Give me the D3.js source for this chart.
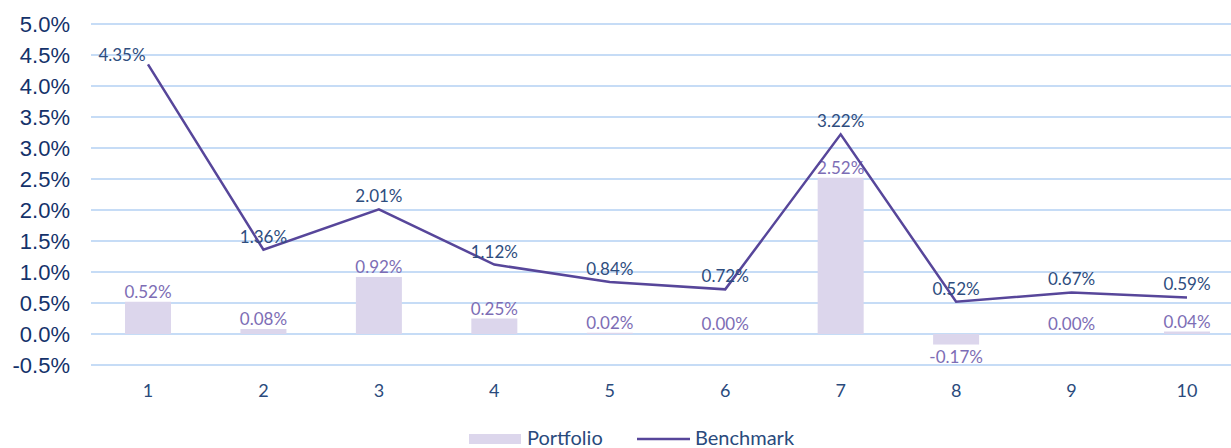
<!DOCTYPE html>
<html><head><meta charset="utf-8">
<script src="https://cdn.jsdelivr.net/npm/d3@7"></script>
<style>
html,body{margin:0;padding:0;background:#fff;overflow:hidden;}
svg{display:block;}
</style></head>
<body>
<svg id="chart" width="1231" height="448"></svg>
<script>
const categories = ["1","2","3","4","5","6","7","8","9","10"];
const portfolio = [0.52, 0.08, 0.92, 0.25, 0.02, 0.00, 2.52, -0.17, 0.00, 0.04];
const benchmark = [4.35, 1.36, 2.01, 1.12, 0.84, 0.72, 3.22, 0.52, 0.67, 0.59];
const yTicks = [-0.5, 0, 0.5, 1, 1.5, 2, 2.5, 3, 3.5, 4, 4.5, 5];
const seriesNames = ["Portfolio", "Benchmark"];

const svg = d3.select("#chart");
const labelFont = "Lato, 'Open Sans', sans-serif";

const xc = d3.scalePoint().domain(categories).range([148, 1187]);
const y = d3.scaleLinear().domain([-0.5, 5]).range([365, 24]);

// gridlines
svg.append("g").selectAll("line").data(yTicks).join("line")
  .attr("x1", 91).attr("x2", 1231)
  .attr("y1", d => y(d)).attr("y2", d => y(d))
  .attr("stroke", "#c6dcf6").attr("stroke-width", 2);

// y axis labels
svg.append("g").selectAll("text").data(yTicks).join("text")
  .attr("x", 70).attr("y", d => y(d)).attr("dy", "0.36em")
  .attr("text-anchor", "end")
  .attr("font-family", "'Liberation Sans', Arial, sans-serif")
  .attr("font-size", 22).attr("fill", "#14326a")
  .text(d => d.toFixed(1) + "%");

// x axis labels
svg.append("g").selectAll("text").data(categories).join("text")
  .attr("x", d => xc(d)).attr("y", 397)
  .attr("text-anchor", "middle")
  .attr("font-family", labelFont)
  .attr("font-size", 18).attr("fill", "#2a4a7c")
  .text(d => d);

// bars
const bw = 46;
svg.append("g").selectAll("rect").data(portfolio).join("rect")
  .attr("x", (d, i) => xc(categories[i]) - bw / 2)
  .attr("width", bw)
  .attr("y", d => y(Math.max(0, d)))
  .attr("height", d => Math.abs(y(d) - y(0)))
  .attr("fill", "#dcd6ec");

// bar labels
svg.append("g").selectAll("text").data(portfolio).join("text")
  .attr("x", (d, i) => xc(categories[i]))
  .attr("y", d => d < 0 ? y(d) + 18 : y(d) - 4)
  .attr("text-anchor", "middle")
  .attr("font-family", labelFont)
  .attr("font-size", 17).attr("fill", "#7d6db5")
  .text(d => d.toFixed(2) + "%");

// line
const line = d3.line().x((d, i) => xc(categories[i])).y(d => y(d));
svg.append("path").datum(benchmark)
  .attr("d", line).attr("fill", "none")
  .attr("stroke", "#57469a").attr("stroke-width", 2.5)
  .attr("stroke-linejoin", "miter");

// line labels
svg.append("g").selectAll("text").data(benchmark).join("text")
  .attr("x", (d, i) => xc(categories[i]) + (i === 0 ? -26 : 0))
  .attr("y", (d, i) => y(d) - (i === 0 ? 3 : 7))
  .attr("text-anchor", "middle")
  .attr("font-family", labelFont)
  .attr("font-size", 17).attr("fill", "#2e4d7e")
  .text(d => d.toFixed(2) + "%");

// legend
const lg = svg.append("g").attr("font-family", labelFont)
  .attr("font-size", 20).attr("fill", "#2a4a7c");
lg.append("rect").attr("x", 469).attr("y", 434).attr("width", 52).attr("height", 10).attr("fill", "#dcd6ec");
lg.append("text").attr("x", 527).attr("y", 445).text(seriesNames[0]);
lg.append("line").attr("x1", 637).attr("x2", 690).attr("y1", 439).attr("y2", 439)
  .attr("stroke", "#57469a").attr("stroke-width", 2.5);
lg.append("text").attr("x", 695).attr("y", 445).text(seriesNames[1]);
</script>
</body></html>
